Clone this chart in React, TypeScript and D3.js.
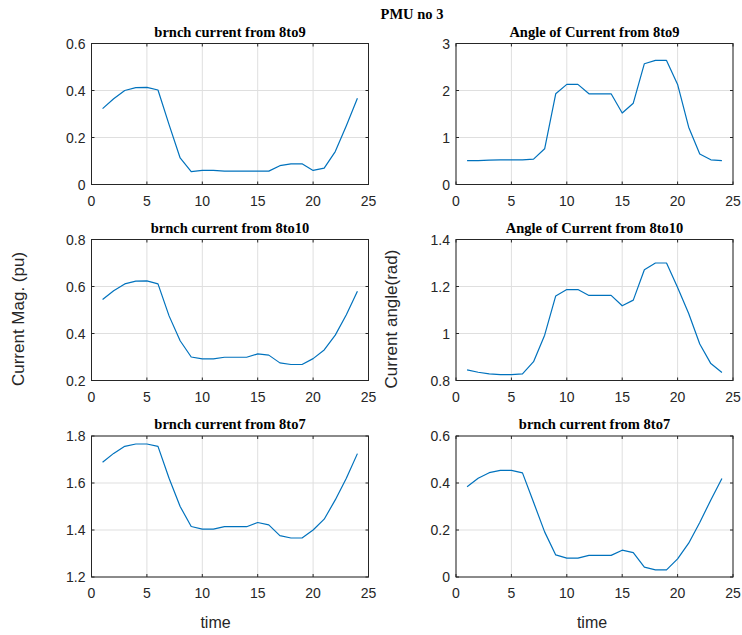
import React from "react";
import * as d3 from "d3";

// Hourly samples (time index) for PMU no 3
const TIME = [1, 2, 3, 4, 5, 6, 7, 8, 9, 10, 11, 12, 13, 14, 15, 16, 17, 18, 19, 20, 21, 22, 23, 24];

const MAG_8TO9 = [0.323, 0.365, 0.4, 0.412, 0.413, 0.402, 0.255, 0.113, 0.055, 0.06, 0.06, 0.057, 0.057, 0.057, 0.057, 0.057, 0.08, 0.088, 0.088, 0.06, 0.07, 0.14, 0.25, 0.367];
const ANG_8TO9 = [0.51, 0.51, 0.52, 0.525, 0.525, 0.525, 0.54, 0.76, 1.93, 2.13, 2.13, 1.93, 1.93, 1.93, 1.52, 1.73, 2.57, 2.64, 2.64, 2.13, 1.22, 0.65, 0.525, 0.51];
const MAG_8TO10 = [0.545, 0.582, 0.611, 0.623, 0.624, 0.611, 0.475, 0.369, 0.3, 0.292, 0.292, 0.299, 0.299, 0.299, 0.313, 0.308, 0.275, 0.268, 0.268, 0.293, 0.33, 0.393, 0.48, 0.58];
const ANG_8TO10 = [0.845, 0.835, 0.828, 0.825, 0.825, 0.828, 0.88, 0.993, 1.16, 1.187, 1.187, 1.162, 1.162, 1.162, 1.118, 1.142, 1.271, 1.3, 1.3, 1.196, 1.085, 0.955, 0.872, 0.834];
const MAG_8TO7 = [1.688, 1.726, 1.756, 1.766, 1.766, 1.756, 1.62, 1.5, 1.415, 1.404, 1.404, 1.414, 1.414, 1.414, 1.432, 1.422, 1.376, 1.366, 1.366, 1.4, 1.446, 1.528, 1.62, 1.725];
const ANG_8TO7 = [0.384, 0.42, 0.444, 0.454, 0.454, 0.443, 0.318, 0.192, 0.094, 0.08, 0.08, 0.092, 0.092, 0.092, 0.114, 0.104, 0.042, 0.03, 0.03, 0.077, 0.144, 0.232, 0.328, 0.419];

const X_TICKS = [0, 5, 10, 15, 20, 25];

const SUPTITLE = "PMU no 3";
const X_LABEL = "time";
const Y_LABEL_LEFT = "Current Mag. (pu)";
const Y_LABEL_RIGHT = "Current angle(rad)";

const PANELS = [
  { title: "brnch current from 8to9", values: MAG_8TO9, yDomain: [0, 0.6], yTicks: [0, 0.2, 0.4, 0.6], col: 0, row: 0 },
  { title: "Angle of Current from 8to9", values: ANG_8TO9, yDomain: [0, 3], yTicks: [0, 1, 2, 3], col: 1, row: 0 },
  { title: "brnch current from 8to10", values: MAG_8TO10, yDomain: [0.2, 0.8], yTicks: [0.2, 0.4, 0.6, 0.8], col: 0, row: 1 },
  { title: "Angle of Current from 8to10", values: ANG_8TO10, yDomain: [0.8, 1.4], yTicks: [0.8, 1, 1.2, 1.4], col: 1, row: 1 },
  { title: "brnch current from 8to7", values: MAG_8TO7, yDomain: [1.2, 1.8], yTicks: [1.2, 1.4, 1.6, 1.8], col: 0, row: 2 },
  { title: "brnch current from 8to7", values: ANG_8TO7, yDomain: [0, 0.6], yTicks: [0, 0.2, 0.4, 0.6], col: 1, row: 2 },
];

// Layout
const W = 742;
const H = 635;
const COL_X = [91.5, 456];
const ROW_Y = [43.5, 239.5, 436];
const AX_W = 277;
const AX_H = 141;
const TICK_LEN = 3;

const SANS = "'Liberation Sans', Arial, Helvetica, sans-serif";
const SERIF = "'Liberation Serif', 'Times New Roman', serif";
const AXIS_COLOR = "#262626";
const GRID_COLOR = "#dfdfdf";
const LINE_COLOR = "#0072bd";

const fmt = d3.format("~g");

function Panel({ p }: { p: (typeof PANELS)[number] }) {
  const x0 = COL_X[p.col];
  const y0 = ROW_Y[p.row];
  const x = d3.scaleLinear().domain([0, 25]).range([x0, x0 + AX_W]);
  const y = d3.scaleLinear().domain(p.yDomain).range([y0 + AX_H, y0]);
  const line = d3
    .line<number>()
    .x((_, i) => x(TIME[i]))
    .y((d) => y(d));

  const xr = x0 + AX_W;
  const yb = y0 + AX_H;

  return (
    <g>
      {/* grid */}
      {X_TICKS.map((t) => (
        <line key={"gx" + t} x1={x(t)} x2={x(t)} y1={y0} y2={yb} stroke={GRID_COLOR} strokeWidth={1} />
      ))}
      {p.yTicks.map((t) => (
        <line key={"gy" + t} x1={x0} x2={xr} y1={y(t)} y2={y(t)} stroke={GRID_COLOR} strokeWidth={1} />
      ))}

      {/* data */}
      <path d={line(p.values) || ""} fill="none" stroke={LINE_COLOR} strokeWidth={1.2} strokeLinejoin="round" />

      {/* box */}
      <rect x={x0} y={y0} width={AX_W} height={AX_H} fill="none" stroke={AXIS_COLOR} strokeWidth={1} />

      {/* ticks on all four sides, pointing inward */}
      {X_TICKS.map((t) => (
        <g key={"tx" + t}>
          <line x1={x(t)} x2={x(t)} y1={yb} y2={yb - TICK_LEN} stroke={AXIS_COLOR} />
          <line x1={x(t)} x2={x(t)} y1={y0} y2={y0 + TICK_LEN} stroke={AXIS_COLOR} />
          <text x={x(t)} y={yb + 21} textAnchor="middle" fontFamily={SANS} fontSize={14} fill={AXIS_COLOR}>
            {fmt(t)}
          </text>
        </g>
      ))}
      {p.yTicks.map((t) => (
        <g key={"ty" + t}>
          <line x1={x0} x2={x0 + TICK_LEN} y1={y(t)} y2={y(t)} stroke={AXIS_COLOR} />
          <line x1={xr} x2={xr - TICK_LEN} y1={y(t)} y2={y(t)} stroke={AXIS_COLOR} />
          <text x={x0 - 6} y={y(t) + 5} textAnchor="end" fontFamily={SANS} fontSize={14} fill={AXIS_COLOR}>
            {fmt(t)}
          </text>
        </g>
      ))}

      {/* title */}
      <text x={x0 + AX_W / 2} y={y0 - 7} textAnchor="middle" fontFamily={SERIF} fontWeight="bold" fontSize={14.5} fill="#000">
        {p.title}
      </text>
    </g>
  );
}

export default function App() {
  return (
    <svg
      width={W}
      height={H}
      viewBox={`0 0 ${W} ${H}`}
      style={{ position: "absolute", left: 0, top: 0, background: "#fff" }}
    >
      <rect x={0} y={0} width={W} height={H} fill="#fff" />
      <text x={412} y={19} textAnchor="middle" fontFamily={SERIF} fontWeight="bold" fontSize={14.5} fill="#000">
        {SUPTITLE}
      </text>
      {PANELS.map((p, i) => (
        <Panel key={i} p={p} />
      ))}
      <text
        transform={`translate(24,319) rotate(-90)`}
        textAnchor="middle"
        fontFamily={SANS}
        fontSize={17}
        fill={AXIS_COLOR}
      >
        {Y_LABEL_LEFT}
      </text>
      <text
        transform={`translate(397,319) rotate(-90)`}
        textAnchor="middle"
        fontFamily={SANS}
        fontSize={17}
        fill={AXIS_COLOR}
      >
        {Y_LABEL_RIGHT}
      </text>
      <text x={215.5} y={628} textAnchor="middle" fontFamily={SANS} fontSize={16} fill={AXIS_COLOR}>
        {X_LABEL}
      </text>
      <text x={592} y={628} textAnchor="middle" fontFamily={SANS} fontSize={16} fill={AXIS_COLOR}>
        {X_LABEL}
      </text>
    </svg>
  );
}
